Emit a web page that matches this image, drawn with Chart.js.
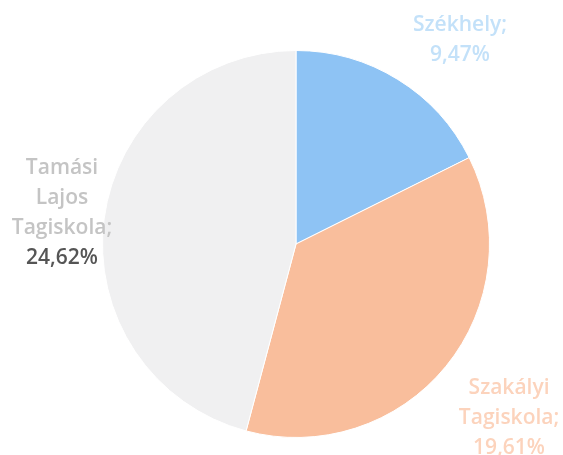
<!DOCTYPE html>
<html>
<head>
<meta charset="utf-8">
<script src="https://cdn.jsdelivr.net/npm/chart.js"></script>
<style>
  html, body { margin: 0; padding: 0; background: #fff; }
  #wrap { width: 563px; height: 455px; }
</style>
</head>
<body>
<div id="wrap"><canvas id="pieChart" width="563" height="455"></canvas></div>
<script>
// Data
const categories = [['Székhely;'], ['Szakályi', 'Tagiskola;'], ['Tamási', 'Lajos', 'Tagiskola;']];
const shares = [9.47, 19.61, 24.62];
const sliceColors = ['#8ec3f4', '#f9be9c', '#f0f0f1'];
const nameColors = ['#c3e1f9', '#fcd3bc', '#c4c4c4'];
const valueColors = ['#c3e1f9', '#fcd3bc', '#555555'];

// Label placement: angle tweak (deg) and distance from centre (px)
const labelSpots = [
  { dAngle: 7, dist: 262 },
  { dAngle: 0, dist: 275 },
  { dAngle: 0, dist: 236 }
];

const outsideLabels = {
  id: 'outsideLabels',
  afterDatasetsDraw(chart) {
    const ctx = chart.ctx;
    const arcs = chart.getDatasetMeta(0).data;
    ctx.save();
    ctx.font = '600 21px "Open Sans", sans-serif';
    ctx.textAlign = 'center';
    ctx.textBaseline = 'middle';
    const lineH = 30;
    arcs.forEach((arc, i) => {
      const mid = (arc.startAngle + arc.endAngle) / 2 + labelSpots[i].dAngle * Math.PI / 180;
      const cx = arc.x + Math.cos(mid) * labelSpots[i].dist;
      const cy = arc.y + Math.sin(mid) * labelSpots[i].dist;
      const lines = categories[i].slice();
      const pct = shares[i].toFixed(2).replace('.', ',') + '%';
      const total = lines.length + 1;
      let y = cy - (total - 1) * lineH / 2;
      lines.forEach(t => {
        ctx.fillStyle = nameColors[i];
        ctx.fillText(t, cx, y);
        y += lineH;
      });
      ctx.fillStyle = valueColors[i];
      ctx.fillText(pct, cx, y);
    });
    ctx.restore();
  }
};

new Chart(document.getElementById('pieChart'), {
  type: 'pie',
  data: {
    labels: categories.map(c => c.join(' ')),
    datasets: [{
      data: shares,
      backgroundColor: sliceColors,
      borderColor: '#ffffff',
      borderWidth: 1
    }]
  },
  options: {
    responsive: false,
    animation: false,
    layout: { padding: { top: 50, bottom: 17, left: 102, right: 73 } },
    plugins: {
      legend: { display: false },
      tooltip: { enabled: false }
    }
  },
  plugins: [outsideLabels]
});
</script>
</body>
</html>
